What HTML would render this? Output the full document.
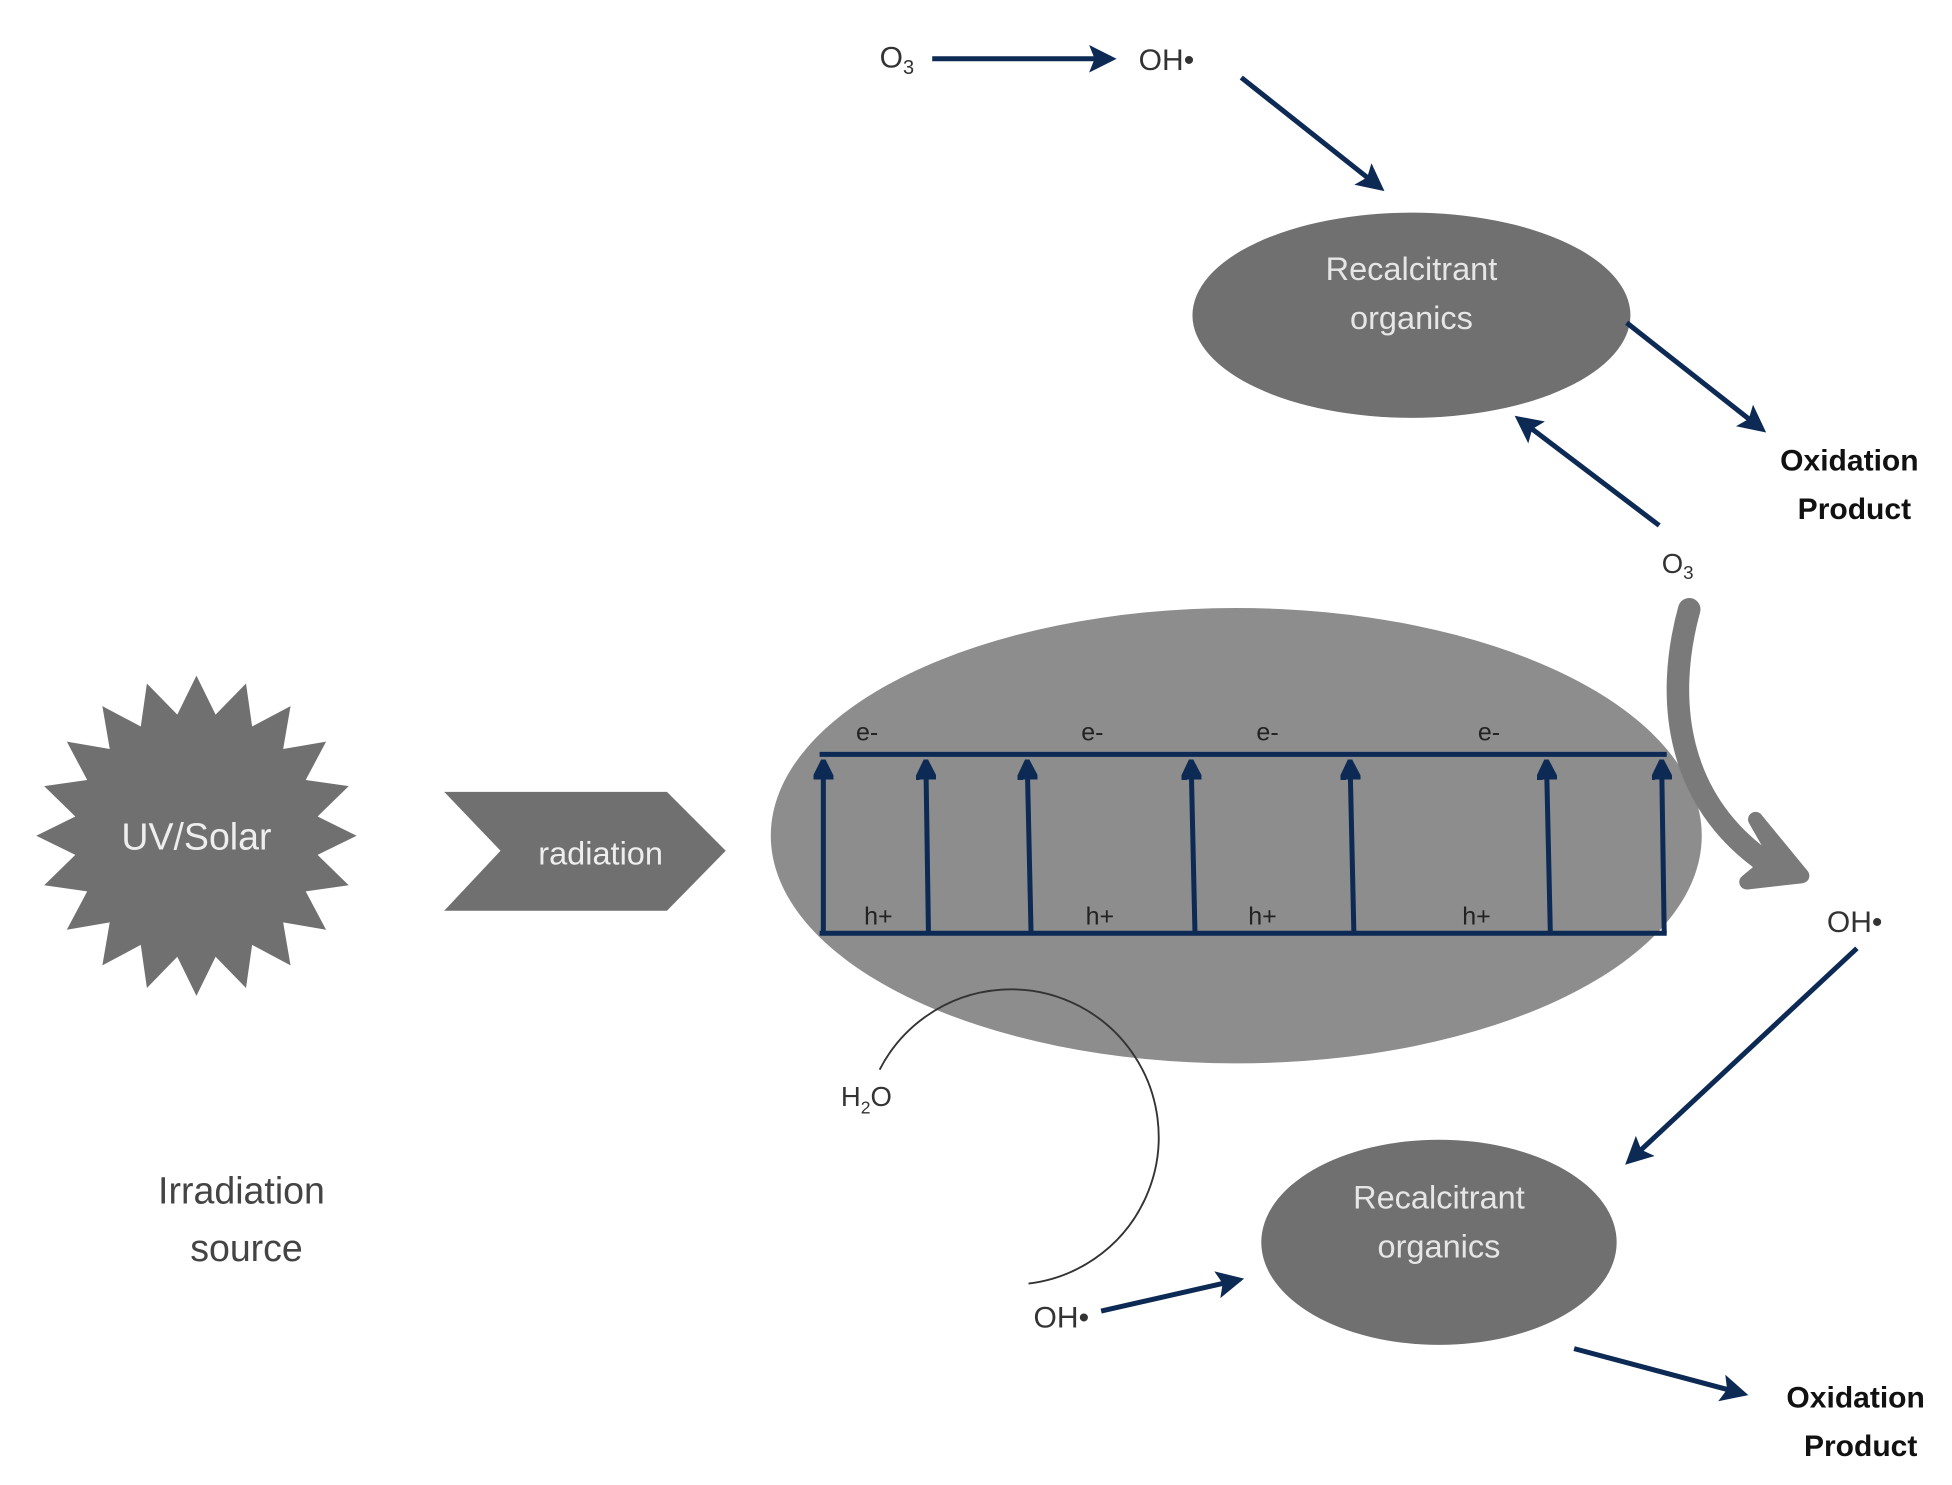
<!DOCTYPE html>
<html><head><meta charset="utf-8"><style>
html,body{margin:0;padding:0;background:#fff;}
svg{display:block}
text{font-family:"Liberation Sans",sans-serif;}
</style></head><body>
<svg width="1952" height="1485" viewBox="0 0 1560 1187" preserveAspectRatio="none" xmlns="http://www.w3.org/2000/svg">
<defs>
<marker id="ah" viewBox="0 0 10 10" refX="8" refY="5" markerWidth="5.5" markerHeight="5.5" orient="auto" markerUnits="strokeWidth">
<path d="M0,0 L10,5 L0,10 L2,5 z" fill="#0d2a55"/></marker>
<marker id="au" viewBox="0 0 10 10" refX="7" refY="5" markerWidth="4" markerHeight="4" orient="auto" markerUnits="strokeWidth">
<path d="M0,0 L10,5 L0,10 z" fill="#0d2a55" stroke="#0d2a55" stroke-width="2" stroke-linejoin="round"/></marker>
</defs>

<ellipse cx="988" cy="668" rx="372" ry="182" fill="#8d8d8d"/>
<g stroke="#0d2a55" stroke-width="4" fill="none">
<line x1="655" y1="603" x2="1332" y2="603"/>
<line x1="655" y1="746" x2="1332" y2="746"/>
<g marker-end="url(#au)">
<line x1="658" y1="746" x2="658" y2="612"/>
<line x1="742" y1="746" x2="740" y2="612"/>
<line x1="824" y1="746" x2="821" y2="612"/>
<line x1="955" y1="746" x2="952" y2="612"/>
<line x1="1082" y1="746" x2="1079" y2="612"/>
<line x1="1239" y1="746" x2="1236" y2="612"/>
<line x1="1330" y1="746" x2="1328" y2="612"/>
</g></g>
<g font-size="20" fill="#222" text-anchor="middle">
<text x="693" y="592">e-</text><text x="873" y="592">e-</text><text x="1013" y="592">e-</text><text x="1190" y="592">e-</text>
<text x="702" y="739">h+</text><text x="879" y="739">h+</text><text x="1009" y="739">h+</text><text x="1180" y="739">h+</text>
</g>

<polygon id="star" fill="#707070" points=""/>
<text x="157" y="679" font-size="30" fill="#eee" text-anchor="middle">UV/Solar</text>
<polygon points="355,633 533,633 580,680 533,728 355,728 400,680" fill="#707070"/>
<text x="480" y="691" font-size="26" fill="#eee" text-anchor="middle">radiation</text>

<text x="193" y="962" font-size="30" fill="#444" text-anchor="middle">Irradiation</text>
<text x="197" y="1008" font-size="30" fill="#444" text-anchor="middle">source</text>

<text x="703" y="54" font-size="24" fill="#333">O<tspan font-size="16" dy="5">3</tspan></text>
<line x1="745" y1="47" x2="888" y2="47" stroke="#0d2a55" stroke-width="4" marker-end="url(#ah)"/>
<text x="910" y="56" font-size="24" fill="#333">OH•</text>
<line x1="992" y1="62" x2="1103" y2="150" stroke="#0d2a55" stroke-width="4" marker-end="url(#ah)"/>
<ellipse cx="1128" cy="252" rx="175" ry="82" fill="#707070"/>
<text x="1128" y="224" font-size="26" fill="#e6e6e6" text-anchor="middle">Recalcitrant</text>
<text x="1128" y="263" font-size="26" fill="#e6e6e6" text-anchor="middle">organics</text>
<line x1="1300" y1="258" x2="1408" y2="343" stroke="#0d2a55" stroke-width="4" marker-end="url(#ah)"/>
<text x="1478" y="376" font-size="24" font-weight="bold" fill="#111" text-anchor="middle">Oxidation</text>
<text x="1482" y="415" font-size="24" font-weight="bold" fill="#111" text-anchor="middle">Product</text>
<line x1="1326" y1="420" x2="1214" y2="335" stroke="#0d2a55" stroke-width="4" marker-end="url(#ah)"/>
<text x="1328" y="458" font-size="22" fill="#333">O<tspan font-size="15" dy="5">3</tspan></text>

<path d="M1350,487 C1330,560 1340,640 1412,690" stroke="#7a7a7a" stroke-width="18" fill="none" stroke-linecap="round"/>
<polygon points="1403,655 1440,700 1396,705 1420,685" fill="#7a7a7a" stroke="#7a7a7a" stroke-width="12" stroke-linejoin="round"/>
<text x="1460" y="745" font-size="24" fill="#333">OH•</text>
<line x1="1484" y1="758" x2="1302" y2="928" stroke="#0d2a55" stroke-width="4" marker-end="url(#ah)"/>

<ellipse cx="1150" cy="993" rx="142" ry="82" fill="#707070"/>
<text x="1150" y="966" font-size="26" fill="#e6e6e6" text-anchor="middle">Recalcitrant</text>
<text x="1150" y="1005" font-size="26" fill="#e6e6e6" text-anchor="middle">organics</text>
<line x1="1258" y1="1078" x2="1393" y2="1114" stroke="#0d2a55" stroke-width="4" marker-end="url(#ah)"/>
<text x="1483" y="1125" font-size="24" font-weight="bold" fill="#111" text-anchor="middle">Oxidation</text>
<text x="1487" y="1164" font-size="24" font-weight="bold" fill="#111" text-anchor="middle">Product</text>

<path d="M703,855 A118,118 0 1 1 822,1026" stroke="#333" stroke-width="1.5" fill="none"/>
<text x="672" y="884" font-size="22" fill="#333">H<tspan font-size="14" dy="6">2</tspan><tspan dy="-6">O</tspan></text>
<text x="826" y="1061" font-size="24" fill="#333">OH•</text>
<line x1="880" y1="1048" x2="990" y2="1023" stroke="#0d2a55" stroke-width="4" marker-end="url(#ah)"/>
</svg>
<script>
var p=[],cx=157,cy=668;
for(var i=0;i<40;i++){var a=Math.PI*2*i/40-Math.PI/2,r=i%2?98:128;p.push((cx+r*Math.cos(a)).toFixed(1)+","+(cy+r*Math.sin(a)).toFixed(1));}
document.getElementById("star").setAttribute("points",p.join(" "));
</script>
</body></html>
